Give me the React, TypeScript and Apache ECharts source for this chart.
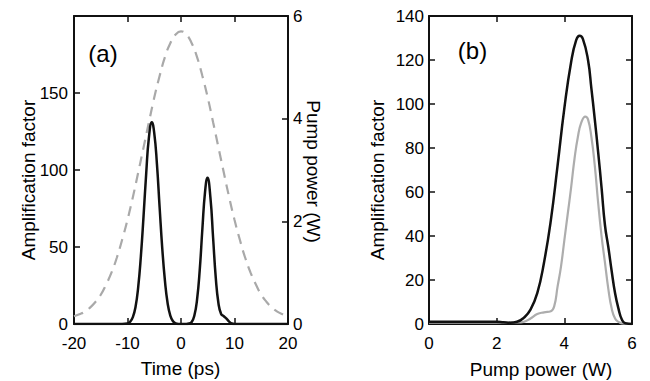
import React, { useEffect, useRef } from "react";
import * as echarts from "echarts";

// Panel (a): amplification factor vs time (black) and pump power (grey dashed)
const timeA = [-20, -15, -11, -10, -9.5, -9, -8.5, -8, -7.5, -7, -6.5, -6, -5.45, -5, -4.5, -4, -3.5, -3, -2.5, -2, -1.5, -1, -0.5, 0, 0.5, 1, 1.5, 2, 2.5, 3, 3.5, 4, 4.5, 4.95, 5.5, 6, 6.5, 7, 7.5, 8, 8.5, 9, 9.5, 10, 15, 20];
const ampA = [0, 0, 0, 0.3, 1.5, 4.5, 11, 24, 44, 70, 98, 121, 131, 124, 104, 76, 49, 28, 13.5, 5.5, 1.8, 0.4, 0, 0, 0, 0, 0.3, 1.3, 5.5, 15.8, 35, 62, 86, 95, 82, 56, 30, 13.5, 6.5, 5, 3.5, 1.5, 0.3, 0, 0, 0];

const timeP = [-20, -19, -18, -17, -16, -15, -14, -13, -12, -11, -10, -9, -8, -7, -6, -5, -4, -3, -2, -1, 0, 1, 2, 3, 4, 5, 6, 7, 8, 9, 10, 11, 12, 13, 14, 15, 16, 17, 18, 19, 20];
const pumpP = [0.15, 0.19, 0.24, 0.32, 0.43, 0.57, 0.77, 1.0, 1.29, 1.64, 2.03, 2.47, 2.95, 3.44, 3.93, 4.41, 4.83, 5.2, 5.47, 5.64, 5.7, 5.64, 5.47, 5.2, 4.83, 4.41, 3.93, 3.44, 2.95, 2.47, 2.03, 1.64, 1.29, 1.0, 0.77, 0.57, 0.43, 0.32, 0.24, 0.19, 0.15];

// Panel (b): amplification factor vs pump power
const powerBlack = [0, 0.5, 1, 1.5, 2, 2.2, 2.4, 2.6, 2.8, 3.0, 3.2, 3.4, 3.6, 3.8, 4.0, 4.2, 4.35, 4.45, 4.55, 4.7, 4.8, 4.9, 5.0, 5.1, 5.2, 5.3, 5.4, 5.5, 5.6, 5.7, 5.8, 6.0];
const ampBlack = [1, 1, 1, 1, 1, 0.8, 0.6, 1.0, 2.8, 6.5, 14, 28, 47, 72, 98, 119, 129, 131, 129.5, 120, 107, 93, 78, 62, 45, 35, 24, 14, 7, 2, 0.3, 0];
const powerGray = [0, 1, 2, 2.6, 2.8, 3.0, 3.2, 3.4, 3.6, 3.7, 3.8, 3.9, 4.0, 4.1, 4.2, 4.3, 4.4, 4.5, 4.62, 4.7, 4.8, 4.9, 5.0, 5.1, 5.2, 5.3, 5.4, 5.5, 5.6, 5.7, 6.0];
const ampGray = [0.6, 0.6, 0.6, 0.7, 1.0, 2.5, 4.5, 5.3, 5.8, 8, 17, 26, 38, 50, 62, 75, 85, 91.5, 94.3, 93, 85, 72, 55, 40, 28, 16, 7, 2.5, 1, 0.3, 0];

const FONT = "'Liberation Sans', Arial, Helvetica, sans-serif";
const INK = "#111";
const TICK_FS = 17;

const zip = (xs: number[], ys: number[]) => xs.map((x, i) => [x, ys[i]]);

const label = (extra: any = {}) => ({ color: "#000", fontSize: TICK_FS, fontFamily: FONT, lineHeight: 16, ...extra });

const axisBase = (extra: any) => ({
  type: "value",
  axisLine: { show: true, onZero: false, lineStyle: { color: INK, width: 2 } },
  axisTick: { show: true, inside: true, length: 6, lineStyle: { color: INK, width: 1.5 } },
  splitLine: { show: false },
  axisLabel: label(),
  ...extra,
});

export default function App() {
  const ref = useRef<HTMLDivElement>(null);
  useEffect(() => {
    if (!ref.current) return;
    const chart = echarts.init(ref.current, null, { renderer: "svg" });
    const text = (t: string, x: number, y: number, size: number, rot = 0) => ({
      type: "text",
      x,
      y,
      rotation: rot,
      style: { text: t, fontSize: size, fontFamily: FONT, fill: "#000", align: "center", verticalAlign: "middle" },
    });
    chart.setOption({
      animation: false,
      backgroundColor: "#fff",
      grid: [
        { left: 74, right: 362, top: 16, bottom: 57 },
        { left: 429, right: 18, top: 16, bottom: 57 },
      ],
      xAxis: [
        axisBase({ gridIndex: 0, min: -20, max: 20, interval: 10, position: "bottom", axisLabel: label({ margin: 11 }) }),
        axisBase({ gridIndex: 0, min: -20, max: 20, interval: 10, position: "top", axisLabel: { show: false } }),
        axisBase({ gridIndex: 1, min: 0, max: 6, interval: 2, position: "bottom", axisLabel: label({ margin: 11 }) }),
        axisBase({ gridIndex: 1, min: 0, max: 6, interval: 2, position: "top", axisLabel: { show: false } }),
      ],
      yAxis: [
        axisBase({
          gridIndex: 0, min: 0, max: 200, interval: 50, position: "left",
          axisLabel: label({ margin: 6, formatter: (v: number) => (v === 200 ? "" : String(v)) }),
        }),
        axisBase({ gridIndex: 0, min: 0, max: 6, interval: 2, position: "right", axisLabel: label({ margin: 5 }) }),
        axisBase({ gridIndex: 1, min: 0, max: 140, interval: 20, position: "left", axisLabel: label({ margin: 5 }) }),
        axisBase({ gridIndex: 1, min: 0, max: 140, interval: 20, position: "right", axisLabel: { show: false } }),
      ],
      series: [
        {
          type: "line", xAxisIndex: 0, yAxisIndex: 1, data: zip(timeP, pumpP), smooth: true, symbol: "none",
          lineStyle: { color: "#a9a9a9", width: 2.2, type: [10, 7] },
        },
        {
          type: "line", xAxisIndex: 0, yAxisIndex: 0, data: zip(timeA, ampA), smooth: true, symbol: "none",
          lineStyle: { color: INK, width: 2.5 },
        },
        {
          type: "line", xAxisIndex: 2, yAxisIndex: 2, data: zip(powerGray, ampGray), smooth: true, symbol: "none",
          lineStyle: { color: "#adadad", width: 2.2 },
        },
        {
          type: "line", xAxisIndex: 2, yAxisIndex: 2, data: zip(powerBlack, ampBlack), smooth: true, symbol: "none",
          lineStyle: { color: INK, width: 2.5 },
        },
      ],
      graphic: [
        text("Amplification factor", 28.5, 180, 19, Math.PI / 2),
        text("Pump power (W)", 313, 171.5, 19, -Math.PI / 2),
        text("Time (ps)", 180.5, 368, 19),
        text("Amplification factor", 377, 180, 19, Math.PI / 2),
        text("Pump power (W)", 541, 369, 19),
        text("(a)", 103, 53, 24),
        text("(b)", 472.5, 50, 24),
      ],
    });
    return () => chart.dispose();
  }, []);
  return <div ref={ref} style={{ position: "fixed", left: 0, top: 0, width: 650, height: 381, background: "#fff" }} />;
}
